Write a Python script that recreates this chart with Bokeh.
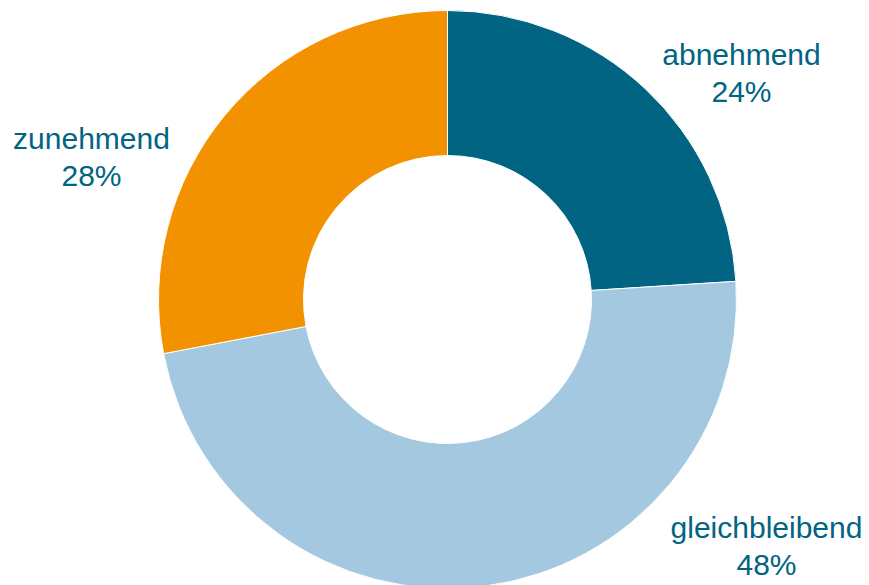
import math
from bokeh.plotting import figure
from bokeh.models import Range1d, ColumnDataSource
from bokeh.core.properties import value
from bokeh.embed import file_html
from bokeh.resources import INLINE

categories = ["abnehmend", "gleichbleibend", "zunehmend"]
shares = [24, 48, 28]
colors = ["#006482", "#A3C8DF", "#F39200"]

# label anchor positions (picture pixel coords of the label centre, first baseline)
label_pos = [(741, 54), (766, 527), (91, 138)]
line_gap = 37

W, H = 869, 585
p = figure(width=W, height=H, output_backend="svg", toolbar_location=None,
           x_range=Range1d(0, W), y_range=Range1d(0, H),
           min_border=0, outline_line_color=None, background_fill_color="white")
p.axis.visible = False
p.grid.visible = False

def Y(screen_y):
    return H - screen_y

cx, cy = 447, Y(299)
r_out, r_in = 289, 144

starts, ends = [], []
a = math.pi / 2
for s in shares:
    sweep = 2 * math.pi * s / sum(shares)
    starts.append(a - sweep)
    ends.append(a)
    a -= sweep

src = ColumnDataSource(dict(start=starts, end=ends, color=colors))
p.annular_wedge(x=cx, y=cy, inner_radius=r_in, outer_radius=r_out,
                start_angle="start", end_angle="end", color="color",
                line_color="white", line_width=1, source=src)

xs, ys, txt = [], [], []
for cat, s, (lx, ly) in zip(categories, shares, label_pos):
    xs += [lx, lx]
    ys += [Y(ly), Y(ly + line_gap)]
    txt += [cat, f"{s}%"]

p.text(x=xs, y=ys, text=txt, text_align="center", text_baseline="alphabetic",
       text_font=value("Liberation Sans"), text_font_size="30px",
       text_color="#006482")

open("out.html", "w").write(file_html(p, INLINE))
